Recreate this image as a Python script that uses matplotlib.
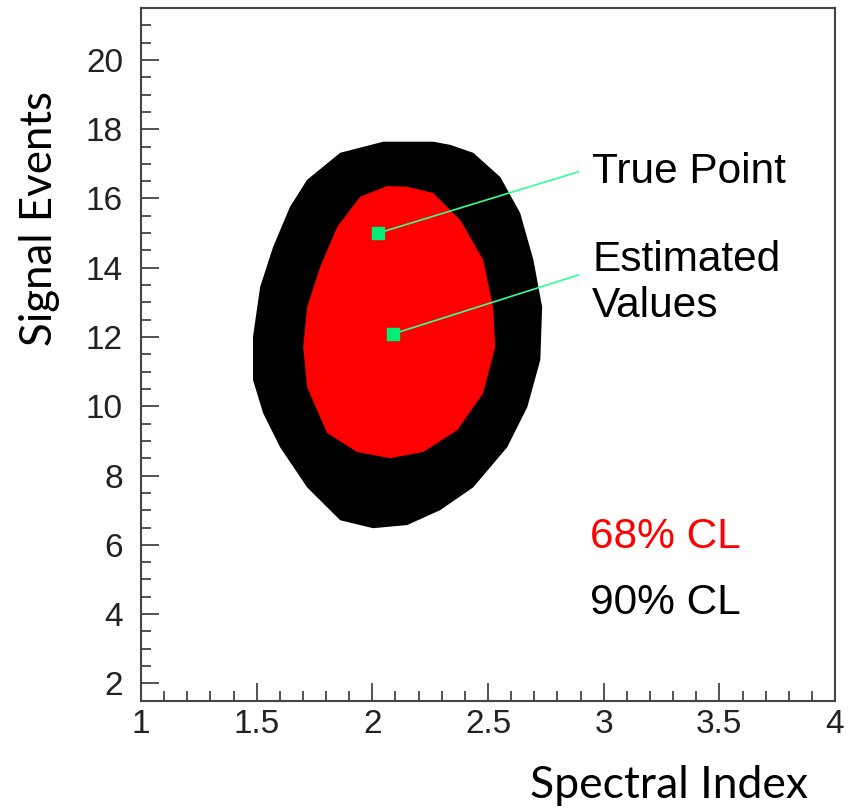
import matplotlib
matplotlib.use("Agg")
from matplotlib import pyplot as plt
from matplotlib.ticker import MultipleLocator

# 90% CL contour boundary (spectral index, signal events)
cl90_x = [2.047, 2.263, 2.336, 2.436, 2.553, 2.639, 2.696, 2.734, 2.726, 2.670,
          2.583, 2.436, 2.293, 2.150, 2.003, 1.861, 1.718, 1.601, 1.528, 1.484,
          1.484, 1.515, 1.571, 1.644, 1.718, 1.861]
cl90_y = [17.64, 17.64, 17.55, 17.32, 16.62, 15.58, 14.23, 12.87, 11.34, 9.98,
          8.82, 7.66, 7.00, 6.57, 6.48, 6.71, 7.66, 8.82, 9.80, 10.76,
          12.00, 13.45, 14.60, 15.76, 16.54, 17.32]

# 68% CL contour boundary
cl68_x = [2.064, 2.150, 2.263, 2.380, 2.479, 2.522, 2.531, 2.479, 2.367, 2.220,
          2.077, 1.934, 1.804, 1.718, 1.701, 1.718, 1.774, 1.848, 1.947]
cl68_y = [16.36, 16.34, 16.16, 15.38, 14.23, 12.87, 11.71, 10.38, 9.31, 8.68,
          8.50, 8.68, 9.23, 10.55, 11.71, 12.87, 14.02, 15.18, 16.05]

# points
true_pt = (2.025, 15.0)
est_pt = (2.09, 12.09)
true_lbl = (2.89, 16.77)
est_lbl = (2.89, 13.79)

xticks = [1, 1.5, 2, 2.5, 3, 3.5, 4]
xticklabels = ['1', '1.5', '2', '2.5', '3', '3.5', '4']
yticks = [2, 4, 6, 8, 10, 12, 14, 16, 18, 20]

fig = plt.figure(figsize=(8.5, 8.09), dpi=100)
ax = fig.add_axes([0.1659, 0.1339, 0.8165, 0.8562])

ax.fill(cl90_x, cl90_y, color='black', lw=0)
ax.fill(cl68_x, cl68_y, color='#ff0000', lw=0)

# pointer lines + markers
green_line = '#33ff99'
green_mk = '#00ee77'
ax.plot([true_pt[0], true_lbl[0]], [true_pt[1], true_lbl[1]], color=green_line, lw=1.2)
ax.plot([est_pt[0], est_lbl[0]], [est_pt[1], est_lbl[1]], color=green_line, lw=1.2)
ax.plot([true_pt[0], est_pt[0]], [true_pt[1], est_pt[1]], ls='none', marker='s',
        ms=9, color=green_mk, mec=green_mk)

txtfont = dict(family='Liberation Sans', fontsize=30.5)
ax.text(2.95, 16.77, 'True Point', va='center', ha='left', color='black', **txtfont)
ax.text(2.95, 13.56, 'Estimated\nValues', va='center', ha='left', color='black',
        linespacing=1.2, **txtfont)
ax.text(2.94, 6.22, '68% CL', va='center', ha='left', color='#ff0000', **txtfont)
ax.text(2.94, 4.31, '90% CL', va='center', ha='left', color='black', **txtfont)

ax.set_xlim(1, 4)
ax.set_ylim(1.5, 21.5)
ax.set_xticks(xticks)
ax.set_xticklabels(xticklabels)
ax.set_yticks(yticks)
ax.xaxis.set_minor_locator(MultipleLocator(0.1))
ax.yaxis.set_minor_locator(MultipleLocator(0.5))

spine_c = '#444444'
for s in ax.spines.values():
    s.set_color(spine_c)
    s.set_linewidth(1.5)

ax.tick_params(axis='both', which='both', direction='in', colors=spine_c,
               top=False, right=False, width=1.3)
ax.tick_params(axis='both', which='major', length=13, labelcolor='#222222')
ax.tick_params(axis='both', which='minor', length=7)
ax.tick_params(axis='y', which='major', pad=13)
ax.tick_params(axis='x', which='major', pad=6)
for lab in ax.get_xticklabels() + ax.get_yticklabels():
    lab.set_family('Liberation Sans')
    lab.set_fontsize(24)

fig.text(808 / 850, 1 - 785 / 809, 'Spectral Index', ha='right', va='center',
         family='Lato', fontsize=32)
fig.text(40 / 850, 1 - 218 / 809, 'Signal Events', ha='center', va='center',
         rotation=90, family='Lato', fontsize=31.5)

fig.savefig('out.png', dpi=100)
